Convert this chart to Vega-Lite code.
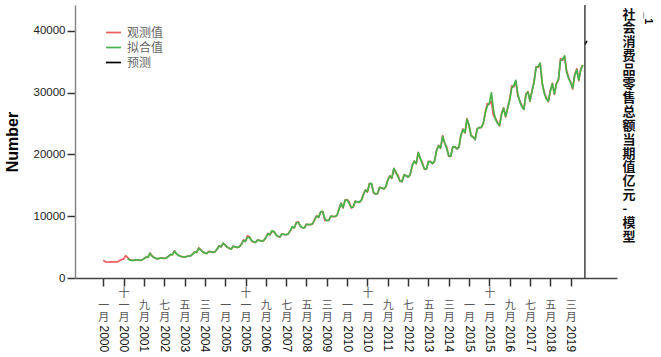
{
  "$schema": "https://vega.github.io/schema/vega-lite/v6.json",
  "width": 542,
  "height": 273,
  "autosize": "none",
  "padding": {"left": 75, "top": 5, "right": 44, "bottom": 79},
  "background": "white",
  "config": {
    "view": {"stroke": null},
    "axis": {"grid": false},
    "legend": {
      "orient": "none", "legendX": 30, "legendY": 19, "padding": 0,
      "symbolType": "stroke", "symbolSize": 225, "rowPadding": 0,
      "labelFont": "Noto Sans CJK SC", "labelFontSize": 12, "labelColor": "#666", "labelOffset": 5,
      "title": null
    }
  },
  "title": {
    "text": "_1", "orient": "right", "anchor": "start", "offset": 8, "dx": 8,
    "font": "Liberation Sans", "fontSize": 11, "fontWeight": "bold", "color": "#000"
  },
  "data": {"values": [
    {"t":0,"观测值":2881},{"t":1,"观测值":2620},{"t":2,"观测值":2590},{"t":3,"观测值":2560},{"t":4,"观测值":2600},{"t":5,"观测值":2600},{"t":6,"观测值":2590},{"t":7,"观测值":2610},{"t":8,"观测值":2790},{"t":9,"观测值":2990},{"t":10,"观测值":3050},{"t":11,"观测值":3600},
    {"t":12,"观测值":3330,"拟合值":3150},{"t":13,"观测值":2950,"拟合值":2900},{"t":14,"观测值":2880,"拟合值":2860},{"t":15,"观测值":2830,"拟合值":2850},{"t":16,"观测值":2930,"拟合值":2920},{"t":17,"观测值":2910,"拟合值":2930},{"t":18,"观测值":2860,"拟合值":2870},{"t":19,"观测值":2890,"拟合值":2900},{"t":20,"观测值":3140,"拟合值":3120},{"t":21,"观测值":3390,"拟合值":3370},{"t":22,"观测值":3330,"拟合值":3360},{"t":23,"观测值":4030,"拟合值":3980},
    {"t":24,"观测值":3600,"拟合值":3560},{"t":25,"观测值":3300,"拟合值":3330},{"t":26,"观测值":3150,"拟合值":3170},{"t":27,"观测值":3110,"拟合值":3100},{"t":28,"观测值":3250,"拟合值":3230},{"t":29,"观测值":3220,"拟合值":3240},{"t":30,"观测值":3170,"拟合值":3160},{"t":31,"观测值":3220,"拟合值":3240},{"t":32,"观测值":3490,"拟合值":3470},{"t":33,"观测值":3780,"拟合值":3800},{"t":34,"观测值":3760,"拟合值":3740},{"t":35,"观测值":4400,"拟合值":4350},
    {"t":36,"观测值":3900,"拟合值":3950},{"t":37,"观测值":3700,"拟合值":3660},{"t":38,"观测值":3500,"拟合值":3520},{"t":39,"观测值":3420,"拟合值":3440},{"t":40,"观测值":3400,"拟合值":3430},{"t":41,"观测值":3500,"拟合值":3480},{"t":42,"观测值":3520,"拟合值":3540},{"t":43,"观测值":3590,"拟合值":3600},{"t":44,"观测值":3900,"拟合值":3880},{"t":45,"观测值":4220,"拟合值":4200},{"t":46,"观测值":4150,"拟合值":4180},{"t":47,"观测值":4900,"拟合值":4830},
    {"t":48,"观测值":4570,"拟合值":4520},{"t":49,"观测值":4200,"拟合值":4250},{"t":50,"观测值":4030,"拟合值":4010},{"t":51,"观测值":3990,"拟合值":4000},{"t":52,"观测值":4310,"拟合值":4280},{"t":53,"观测值":4230,"拟合值":4250},{"t":54,"观测值":4140,"拟合值":4160},{"t":55,"观测值":4260,"拟合值":4250},{"t":56,"观测值":4690,"拟合值":4660},{"t":57,"观测值":5220,"拟合值":5180},{"t":58,"观测值":5030,"拟合值":5060},{"t":59,"观测值":5600,"拟合值":5640},
    {"t":60,"观测值":5300,"拟合值":5350},{"t":61,"观测值":5010,"拟合值":4980},{"t":62,"观测值":4800,"拟合值":4820},{"t":63,"观测值":4660,"拟合值":4690},{"t":64,"观测值":5170,"拟合值":5120},{"t":65,"观测值":5040,"拟合值":5060},{"t":66,"观测值":4930,"拟合值":4950},{"t":67,"观测值":5040,"拟合值":5060},{"t":68,"观测值":5490,"拟合值":5460},{"t":69,"观测值":6180,"拟合值":6100},{"t":70,"观测值":5910,"拟合值":5960},{"t":71,"观测值":6850,"拟合值":6600},
    {"t":72,"观测值":6640,"拟合值":6560},{"t":73,"观测值":6000,"拟合值":6080},{"t":74,"观测值":5800,"拟合值":5830},{"t":75,"观测值":5770,"拟合值":5790},{"t":76,"观测值":6180,"拟合值":6130},{"t":77,"观测值":6060,"拟合值":6080},{"t":78,"观测值":5950,"拟合值":5970},{"t":79,"观测值":6080,"拟合值":6100},{"t":80,"观测值":6550,"拟合值":6520},{"t":81,"观测值":7230,"拟合值":7150},{"t":82,"观测值":6960,"拟合值":7020},{"t":83,"观测值":7500,"拟合值":7650},
    {"t":84,"观测值":7490,"拟合值":7560},{"t":85,"观测值":7010,"拟合值":6980},{"t":86,"观测值":6690,"拟合值":6720},{"t":87,"观测值":6670,"拟合值":6690},{"t":88,"观测值":7160,"拟合值":7120},{"t":89,"观测值":7030,"拟合值":7050},{"t":90,"观测值":7000,"拟合值":7010},{"t":91,"观测值":7120,"拟合值":7140},{"t":92,"观测值":7670,"拟合值":7630},{"t":93,"观测值":8260,"拟合值":8300},{"t":94,"观测值":8100,"拟合值":8140},{"t":95,"观测值":9020,"拟合值":8950},
    {"t":96,"观测值":9080,"拟合值":9010},{"t":97,"观测值":8350,"拟合值":8420},{"t":98,"观测值":8120,"拟合值":8150},{"t":99,"观测值":8140,"拟合值":8120},{"t":100,"观测值":8700,"拟合值":8680},{"t":101,"观测值":8640,"拟合值":8660},{"t":102,"观测值":8630,"拟合值":8650},{"t":103,"观测值":8770,"拟合值":8790},{"t":104,"观测值":9450,"拟合值":9400},{"t":105,"观测值":10080,"拟合值":10020},{"t":106,"观测值":9790,"拟合值":9850},{"t":107,"观测值":10730,"拟合值":10700},
    {"t":108,"观测值":10760,"拟合值":10800},{"t":109,"观测值":9320,"拟合值":9600},{"t":110,"观测值":9320,"拟合值":9290},{"t":111,"观测值":9340,"拟合值":9360},{"t":112,"观测值":10030,"拟合值":10000},{"t":113,"观测值":9940,"拟合值":9970},{"t":114,"观测值":9940,"拟合值":9960},{"t":115,"观测值":10120,"拟合值":10140},{"t":116,"观测值":11180,"拟合值":11100},{"t":117,"观测值":12130,"拟合值":12050},{"t":118,"观测值":11340,"拟合值":11420},{"t":119,"观测值":12610,"拟合值":12580},
    {"t":120,"观测值":12720,"拟合值":12650},{"t":121,"观测值":12330,"拟合值":12100},{"t":122,"观测值":11320,"拟合值":11450},{"t":123,"观测值":11510,"拟合值":11490},{"t":124,"观测值":12460,"拟合值":12400},{"t":125,"观测值":12330,"拟合值":12350},{"t":126,"观测值":12250,"拟合值":12280},{"t":127,"观测值":12570,"拟合值":12590},{"t":128,"观测值":13540,"拟合值":13480},{"t":129,"观测值":14280,"拟合值":14220},{"t":130,"观测值":13910,"拟合值":13980},{"t":131,"观测值":15330,"拟合值":15250},
    {"t":132,"观测值":15250,"拟合值":15300},{"t":133,"观测值":13770,"拟合值":13900},{"t":134,"观测值":13590,"拟合值":13560},{"t":135,"观测值":13650,"拟合值":13680},{"t":136,"观测值":14700,"拟合值":14650},{"t":137,"观测值":14560,"拟合值":14580},{"t":138,"观测值":14410,"拟合值":14440},{"t":139,"观测值":14710,"拟合值":14730},{"t":140,"观测值":15870,"拟合值":15800},{"t":141,"观测值":16550,"拟合值":16500},{"t":142,"观测值":16130,"拟合值":16200},{"t":143,"观测值":17740,"拟合值":17700},
    {"t":144,"观测值":17000,"拟合值":17150},{"t":145,"观测值":16670,"拟合值":16400},{"t":146,"观测值":15650,"拟合值":15700},{"t":147,"观测值":15600,"拟合值":15620},{"t":148,"观测值":16710,"拟合值":16650},{"t":149,"观测值":16580,"拟合值":16600},{"t":150,"观测值":16320,"拟合值":16350},{"t":151,"观测值":16660,"拟合值":16700},{"t":152,"观测值":18230,"拟合值":18150},{"t":153,"观测值":18930,"拟合值":18880},{"t":154,"观测值":18480,"拟合值":18550},{"t":155,"观测值":20330,"拟合值":20250},
    {"t":156,"观测值":19300,"拟合值":19400},{"t":157,"观测值":18700,"拟合值":18500},{"t":158,"观测值":17640,"拟合值":17700},{"t":159,"观测值":17600,"拟合值":17620},{"t":160,"观测值":18890,"拟合值":18820},{"t":161,"观测值":18830,"拟合值":18850},{"t":162,"观测值":18510,"拟合值":18540},{"t":163,"观测值":18890,"拟合值":18920},{"t":164,"观测值":20650,"拟合值":20580},{"t":165,"观测值":21490,"拟合值":21420},{"t":166,"观测值":21010,"拟合值":21080},{"t":167,"观测值":23060,"拟合值":22950},
    {"t":168,"观测值":21800,"拟合值":21900},{"t":169,"观测值":21200,"拟合值":20950},{"t":170,"观测值":19700,"拟合值":19780},{"t":171,"观测值":19700,"拟合值":19720},{"t":172,"观测值":21250,"拟合值":21180},{"t":173,"观测值":21240,"拟合值":21260},{"t":174,"观测值":20890,"拟合值":20920},{"t":175,"观测值":21130,"拟合值":21160},{"t":176,"观测值":23160,"拟合值":23080},{"t":177,"观测值":24130,"拟合值":24050},{"t":178,"观测值":23480,"拟合值":23560},{"t":179,"观测值":25800,"拟合值":25700},
    {"t":180,"观测值":24600,"拟合值":24800},{"t":181,"观测值":23100,"拟合值":23000},{"t":182,"观测值":22860,"拟合值":22800},{"t":183,"观测值":22390,"拟合值":22420},{"t":184,"观测值":24200,"拟合值":24100},{"t":185,"观测值":24340,"拟合值":24360},{"t":186,"观测值":24340,"拟合值":24380},{"t":187,"观测值":25010,"拟合值":25050},{"t":188,"观测值":26840,"拟合值":26700},{"t":189,"观测值":28250,"拟合值":27900},{"t":190,"观测值":28130,"拟合值":28300},{"t":191,"观测值":28640,"拟合值":30000},
    {"t":192,"观测值":26300,"拟合值":27200},{"t":193,"观测值":25900,"拟合值":25700},{"t":194,"观测值":25200,"拟合值":25050},{"t":195,"观测值":24650,"拟合值":24700},{"t":196,"观测值":26610,"拟合值":26500},{"t":197,"观测值":27540,"拟合值":27480},{"t":198,"观测值":26090,"拟合值":26200},{"t":199,"观测值":27540,"拟合值":27500},{"t":200,"观测值":28940,"拟合值":28800},{"t":201,"观测值":31120,"拟合值":30800},{"t":202,"观测值":30960,"拟合值":31100},{"t":203,"观测值":31760,"拟合值":32000},
    {"t":204,"观测值":29500,"拟合值":29800},{"t":205,"观测值":28700,"拟合值":28500},{"t":206,"观测值":27860,"拟合值":27700},{"t":207,"观测值":27280,"拟合值":27350},{"t":208,"观测值":29810,"拟合值":29700},{"t":209,"观测值":30190,"拟合值":30100},{"t":210,"观测值":28610,"拟合值":28700},{"t":211,"观测值":30330,"拟合值":30250},{"t":212,"观测值":31820,"拟合值":31700},{"t":213,"观测值":34240,"拟合值":34100},{"t":214,"观测值":34110,"拟合值":34200},{"t":215,"观测值":34730,"拟合值":34800},
    {"t":216,"观测值":31500,"拟合值":31600},{"t":217,"观测值":30080,"拟合值":29900},{"t":218,"观测值":29190,"拟合值":29000},{"t":219,"观测值":28540,"拟合值":28650},{"t":220,"观测值":30360,"拟合值":30250},{"t":221,"观测值":31540,"拟合值":31450},{"t":222,"观测值":29730,"拟合值":29850},{"t":223,"观测值":31540,"拟合值":31450},{"t":224,"观测值":32010,"拟合值":32150},{"t":225,"观测值":35530,"拟合值":35300},{"t":226,"观测值":35260,"拟合值":35400},{"t":227,"观测值":35890,"拟合值":35950},
    {"t":228,"观测值":33600,"拟合值":33300},{"t":229,"观测值":32460,"拟合值":32300},{"t":230,"观测值":31730,"拟合值":31600},{"t":231,"观测值":30590,"拟合值":30750},{"t":232,"观测值":32960,"拟合值":32800},{"t":233,"观测值":33880,"拟合值":33700},{"t":234,"观测值":31970,"拟合值":32100},{"t":235,"观测值":33900,"拟合值":33750},{"t":236,"观测值":34490,"拟合值":34450},
    {"t":237,"预测":37800},{"t":238,"预测":38400}
  ]},
  "layer": [
    {
      "transform": [{"fold": ["观测值","拟合值","预测"], "as": ["series","v"]}, {"filter": "isValid(datum.v) && datum.series === '观测值'"}],
      "mark": {"type": "line", "strokeJoin": "round"},
      "encoding": {
        "x": {"field": "t", "type": "quantitative", "scale": {"domain": [-13.9, 252.8], "nice": false, "zero": false},
          "axis": {"orient": "bottom", "values": [0,10,20,30,40,50,60,70,80,90,100,110,120,130,140,150,160,170,180,190,200,210,220,230],
            "labelExpr": "[['','一','月'],['','二','月'],['','三','月'],['','四','月'],['','五','月'],['','六','月'],['','七','月'],['','八','月'],['','九','月'],['','十','月'],['十','一','月'],['十','二','月']][datum.value % 12]",
            "labelAngle": 0, "labelAlign": "center", "labelBaseline": "top", "labelLineHeight": 12, "labelPadding": 1,
            "labelFont": "Noto Sans CJK SC", "labelFontSize": 11, "labelColor": "#555", "labelOverlap": false, "labelFlush": false,
            "tickSize": 8, "tickColor": "#333", "tickWidth": 1.5, "domainColor": "#444", "domainWidth": 1.5, "title": null}},
        "y": {"field": "v", "type": "quantitative", "scale": {"domain": [0, 44200], "nice": false},
          "axis": {"orient": "left", "values": [0,10000,20000,30000,40000], "format": "d", "labelFont": "Liberation Sans", "labelFontSize": 11.5, "labelColor": "#222",
            "labelPadding": 2, "tickSize": 8, "tickColor": "#333", "tickWidth": 1.5, "domainColor": "#888", "domainWidth": 1.5,
            "title": "Number", "titleFont": "Liberation Sans", "titleFontSize": 16, "titleFontWeight": "bold", "titleColor": "#000", "titlePadding": 13}},
        "color": {"field": "series", "type": "nominal", "scale": {"domain": ["观测值","拟合值","预测"], "range": ["#f2595c","#45b549","#000000"]}},
        "strokeWidth": {"field": "series", "type": "nominal", "scale": {"domain": ["观测值","拟合值","预测"], "range": [1.7,1.7,3.5]}}
      }
    },
    {
      "transform": [{"fold": ["观测值","拟合值","预测"], "as": ["series","v"]}, {"filter": "isValid(datum.v) && datum.series === '拟合值'"}],
      "mark": {"type": "line", "strokeJoin": "round"},
      "encoding": {
        "x": {"field": "t", "type": "quantitative", "axis": null},
        "y": {"field": "v", "type": "quantitative", "axis": null},
        "color": {"field": "series", "type": "nominal"},
        "strokeWidth": {"field": "series", "type": "nominal"}
      }
    },
    {
      "transform": [{"fold": ["观测值","拟合值","预测"], "as": ["series","v"]}, {"filter": "isValid(datum.v) && datum.series === '预测'"}],
      "mark": {"type": "line", "strokeJoin": "round"},
      "encoding": {
        "x": {"field": "t", "type": "quantitative", "axis": null},
        "y": {"field": "v", "type": "quantitative",
          "axis": {"orient": "right", "domain": false, "ticks": false, "labels": false,
            "title": ["社","会","消","费","品","零","售","总","额","当","期","值","亿","元","-","模","型"],
            "titleAngle": 0, "titleX": 5, "titleY": 3, "titleAlign": "left", "titleBaseline": "top", "titleLineHeight": 13.9,
            "titleFont": "Noto Sans CJK SC", "titleFontSize": 13, "titleFontWeight": "bold", "titleColor": "#111"}},
        "color": {"field": "series", "type": "nominal"},
        "strokeWidth": {"field": "series", "type": "nominal"}
      }
    },
    {
      "data": {"values": [{"t": 237}]},
      "mark": {"type": "rule", "color": "#444", "strokeWidth": 1.5},
      "encoding": {
        "x": {"field": "t", "type": "quantitative",
          "axis": {"orient": "bottom", "values": [0,10,20,30,40,50,60,70,80,90,100,110,120,130,140,150,160,170,180,190,200,210,220,230],
            "labelExpr": "'' + (floor(datum.value / 12) + 2000)", "labelAngle": 90, "labelAlign": "left", "labelBaseline": "middle",
            "labelPadding": 47, "labelFont": "Liberation Sans", "labelFontSize": 12, "labelColor": "#111", "labelOverlap": false, "labelFlush": false,
            "ticks": false, "domain": false, "title": null}}
      }
    }
  ],
  "resolve": {"axis": {"x": "independent", "y": "independent"}}
}
